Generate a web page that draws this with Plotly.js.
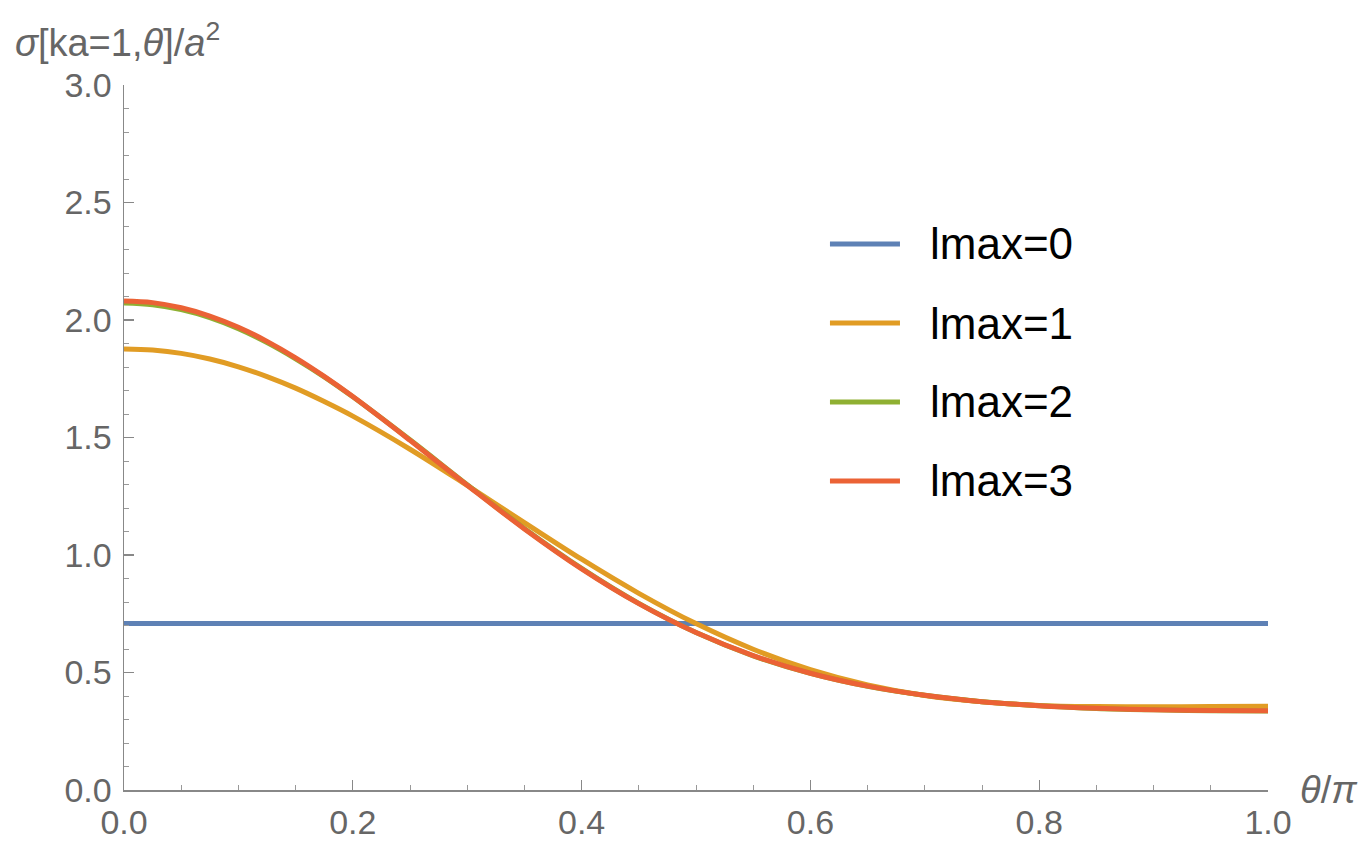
<!DOCTYPE html>
<html>
<head>
<meta charset="utf-8">
<script src="https://cdn.plot.ly/plotly-3.0.1.min.js"></script>
<style>html,body{margin:0;padding:0;background:#fff;}#chart{width:1365px;height:841px;}</style>
</head>
<body>
<div id="chart"></div>
<script>
const theta = [0,0.025,0.05,0.075,0.1,0.125,0.15,0.175,0.2,0.25,0.3,0.35,0.4,0.45,0.5,0.55,0.6,0.65,0.7,0.75,0.8,0.85,0.9,0.95,1.0];
const lmax0 = [0.708,0.708,0.708,0.708,0.708,0.708,0.708,0.708,0.708,0.708,0.708,0.708,0.708,0.708,0.708,0.708,0.708,0.708,0.708,0.708,0.708,0.708,0.708,0.708,0.708];
const lmax1 = [1.877,1.872,1.858,1.834,1.801,1.759,1.710,1.653,1.591,1.450,1.296,1.138,0.982,0.837,0.708,0.599,0.512,0.447,0.402,0.375,0.360,0.355,0.354,0.355,0.356];
const lmax2 = [2.072,2.065,2.044,2.010,1.963,1.904,1.835,1.758,1.673,1.490,1.299,1.113,0.943,0.794,0.670,0.571,0.496,0.441,0.403,0.376,0.359,0.347,0.341,0.337,0.336];
const lmax3 = [2.081,2.074,2.052,2.017,1.969,1.909,1.839,1.760,1.674,1.488,1.297,1.111,0.941,0.793,0.670,0.572,0.497,0.442,0.403,0.376,0.359,0.348,0.341,0.338,0.337];
const names = ["lmax=0","lmax=1","lmax=2","lmax=3"];
const colors = ["#5E81B5","#E19C24","#8FB032","#EB6235"];
const series = [lmax0,lmax1,lmax2,lmax3];

const traces = series.map((ys,i)=>({
  x: theta, y: ys, type:'scatter', mode:'lines', name: names[i],
  line:{color:colors[i], width:5, shape:'spline', smoothing:1}
}));

const gray = '#666666';
const fam = 'Liberation Sans, Arial, sans-serif';
const tickFont = {family:fam, size:34, color:gray};
const titleFont = {family:fam, size:38, color:gray};

// legend built from names/colors
const legY = [0.7745, 0.6624, 0.5504, 0.4383];
const shapes = names.map((n,i)=>({type:'line', xref:'paper', yref:'paper',
  x0:0.6171, x1:0.6783, y0:legY[i], y1:legY[i], line:{color:colors[i], width:5}}));
const legAnn = names.map((n,i)=>({xref:'paper', yref:'paper', x:0.7028, y:legY[i],
  xanchor:'left', yanchor:'middle', showarrow:false, text:n,
  font:{family:fam, size:44, color:'#000'}}));

const layout = {
  width:1365, height:841,
  margin:{l:124, r:97, t:85, b:51, pad:0},
  paper_bgcolor:'#fff', plot_bgcolor:'#fff',
  showlegend:false,
  xaxis:{range:[0,1], tickvals:[0,0.2,0.4,0.6,0.8,1.0], ticktext:['0.0','0.2','0.4','0.6','0.8','1.0'],
    ticks:'inside', ticklen:10, tickwidth:1.2, tickcolor:'#888',
    minor:{dtick:0.05, ticks:'inside', ticklen:5, tickwidth:1, tickcolor:'#999', showgrid:false},
    showline:true, linecolor:'#888', linewidth:1.5, showgrid:false, zeroline:false,
    tickfont:tickFont, ticklabelstandoff:2, fixedrange:true},
  yaxis:{range:[0,3], tickvals:[0,0.5,1,1.5,2,2.5,3], ticktext:['0.0','0.5','1.0','1.5','2.0','2.5','3.0'],
    ticks:'inside', ticklen:10, tickwidth:1.2, tickcolor:'#888',
    minor:{dtick:0.1, ticks:'inside', ticklen:5, tickwidth:1, tickcolor:'#999', showgrid:false},
    showline:true, linecolor:'#888', linewidth:1.5, showgrid:false, zeroline:false,
    tickfont:tickFont, ticklabelstandoff:4, fixedrange:true},
  shapes: shapes,
  annotations:[
    {xref:'paper', yref:'paper', x:-0.097, y:1.064, xanchor:'left', yanchor:'middle', showarrow:false,
     text:'<i>σ</i>[ka=1,<i>θ</i>]/<i>a</i><sup>2</sup>', font:titleFont},
    {xref:'paper', yref:'paper', x:1.026, y:0.0, xanchor:'left', yanchor:'middle', showarrow:false,
     text:'<i>θ</i>/<i>π</i>', font:titleFont}
  ].concat(legAnn)
};
Plotly.newPlot('chart', traces, layout, {displayModeBar:false, staticPlot:true});
</script>
</body>
</html>
